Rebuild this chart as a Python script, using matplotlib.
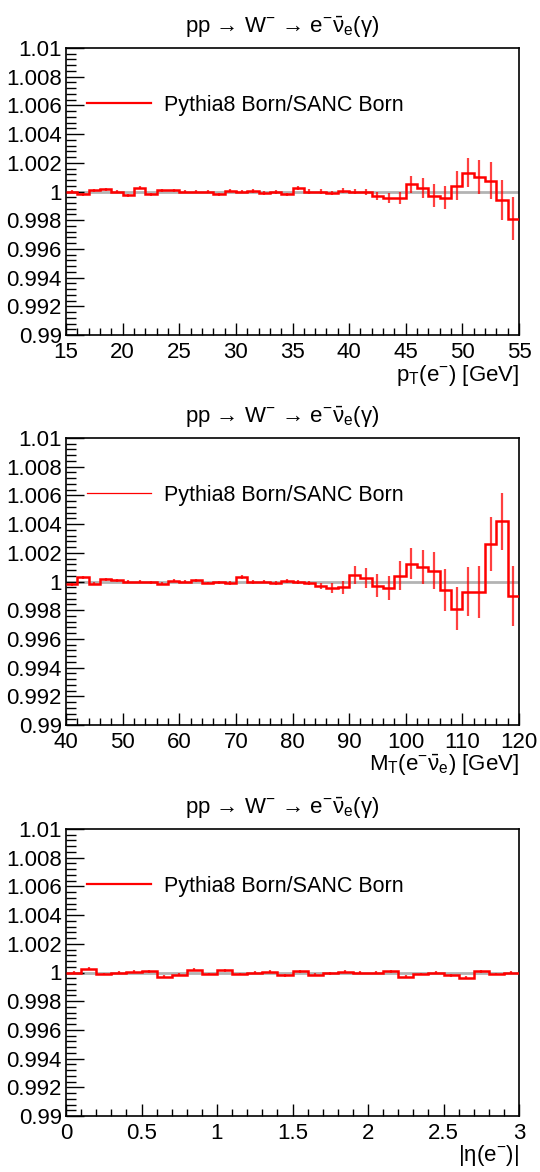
import numpy as np
import matplotlib
matplotlib.use("Agg")
import matplotlib.pyplot as plt
from matplotlib.ticker import MultipleLocator, FuncFormatter

plt.rcParams['font.family'] = ['Liberation Sans', 'DejaVu Sans']
plt.rcParams['mathtext.fontset'] = 'custom'
plt.rcParams['mathtext.rm'] = 'Liberation Sans'
plt.rcParams['mathtext.it'] = 'Liberation Sans:italic'
plt.rcParams['mathtext.default'] = 'regular'
plt.rcParams['mathtext.fallback'] = 'stixsans'

# pT(e-) ratio, 1 GeV bins from 15 to 55
pt_edges = np.arange(15, 56, 1)
pt_ratio = [1.0000, 0.9998, 1.0001, 1.00015, 1.0000, 0.99975, 1.00025, 0.9998, 1.0001, 1.0001,
            1.0000, 1.0000, 1.0000, 0.9998, 1.00005, 1.0000, 1.00005, 0.9999, 0.99995, 0.9998,
            1.00025, 1.0000, 1.0000, 0.9999, 1.00005, 1.0000, 0.99995, 0.9997, 0.99955, 0.99955,
            1.0005, 1.00025, 0.9997, 0.99955, 1.0004, 1.0013, 1.001, 1.00075, 0.9994, 0.9981]
pt_err = [0.0001, 0.0001, 0.0001, 0.0001, 0.0001, 0.0001, 0.0001, 0.0001, 0.0001, 0.0001,
          0.0001, 0.0001, 0.0001, 0.0001, 0.0001, 0.00012, 0.00012, 0.00012, 0.00012, 0.00013,
          0.00013, 0.00014, 0.00015, 0.00016, 0.00017, 0.00018, 0.00022, 0.0003, 0.00035, 0.0004,
          0.0006, 0.0007, 0.0008, 0.0008, 0.001, 0.001, 0.0012, 0.0013, 0.0014, 0.0015]

# MT(e nu) ratio, 2 GeV bins from 40 to 120
mt_edges = np.arange(40, 122, 2)
mt_ratio = [0.9998, 1.0003, 0.99985, 1.00015, 1.0001, 1.0000, 1.0000, 0.99995, 0.99985, 1.00005,
            1.0000, 1.0001, 0.9999, 0.99995, 0.9999, 1.0003, 0.99995, 1.0000, 0.9999, 1.00005,
            0.99995, 0.9999, 0.9997, 0.99955, 0.9996, 1.00045, 1.00025, 0.9997, 0.99955, 1.0004,
            1.00125, 1.001, 1.00075, 0.9994, 0.9981, 0.99928, 0.99928, 1.0026, 1.0042, 0.999]
mt_err = [0.0001, 0.0001, 0.0001, 0.0001, 0.0001, 0.0001, 0.0001, 0.0001, 0.0001, 0.0001,
          0.0001, 0.0001, 0.0001, 0.0001, 0.00012, 0.00012, 0.00012, 0.00013, 0.00013, 0.00014,
          0.00015, 0.00016, 0.0002, 0.00035, 0.00045, 0.0006, 0.0007, 0.0008, 0.00085, 0.001,
          0.00107, 0.0012, 0.0013, 0.00145, 0.0015, 0.0017, 0.0018, 0.0019, 0.002, 0.0021]

# |eta(e-)| ratio, 0.1 bins from 0 to 3
eta_edges = np.linspace(0, 3, 31)
eta_ratio = [1.0000, 1.00025, 0.9999, 1.0000, 1.00005, 1.0001, 0.9997, 0.99985, 1.0002, 0.9999,
             1.00015, 0.9999, 1.0000, 1.00005, 0.9998, 1.0001, 0.99985, 0.99995, 1.00005, 1.0000,
             1.0000, 1.0001, 0.9997, 0.9999, 1.0000, 0.9998, 0.99965, 1.0001, 0.9999, 1.0000]
eta_err = [0.0001] * 30

panels = [
    (pt_edges, pt_ratio, pt_err, r'p$_{T}$(e$^{-}$) [GeV]', 5, 1, 1.6),
    (mt_edges, mt_ratio, mt_err, r'M$_{T}$(e$^{-}\bar{\nu}_{e}$) [GeV]', 10, 2, 0.9),
    (eta_edges, eta_ratio, eta_err, r'|$\eta$(e$^{-}$)|', 0.5, 0.1, 1.6),
]
title = r'pp → W$^{-}$ → e$^{-}\bar{\nu}_{e}$(γ)'

W, H = 540, 1172
fig = plt.figure(figsize=(W / 100, H / 100), dpi=100)
tops = [48, 438, 829]

for (edges, ratio, err, xlab, maj, mnr, leg_lw), top in zip(panels, tops):
    ax = fig.add_axes([66 / W, 1 - (top + 287) / H, 453 / W, 287 / H])
    edges = np.asarray(edges, dtype=float)
    ratio = np.asarray(ratio)
    centers = 0.5 * (edges[:-1] + edges[1:])
    ax.axhline(1.0, color='#b3b3b3', lw=2, zorder=1)
    ax.stairs(ratio, edges, baseline=None, color='red', lw=1.8, zorder=3)
    ax.errorbar(centers, ratio, yerr=err, fmt='none', ecolor='red', elinewidth=1.6,
                alpha=0.75, capsize=0, zorder=2)
    ax.plot([], [], color='red', lw=leg_lw, label='Pythia8 Born/SANC Born')
    ax.legend(loc='center left', bbox_to_anchor=(0.046, 0.801), frameon=False,
              borderpad=0, borderaxespad=0, handlelength=3.0, handletextpad=0.6,
              fontsize=15.5)

    ax.set_xlim(edges[0], edges[-1])
    ax.set_ylim(0.99, 1.01)
    ax.xaxis.set_major_locator(MultipleLocator(maj))
    ax.xaxis.set_minor_locator(MultipleLocator(mnr))
    ax.yaxis.set_major_locator(MultipleLocator(0.002))
    ax.yaxis.set_minor_locator(MultipleLocator(0.0004))
    ax.yaxis.set_major_formatter(FuncFormatter(lambda v, p: '%g' % round(v, 4)))
    ax.xaxis.set_major_formatter(FuncFormatter(lambda v, p: '%g' % round(v, 4)))
    ax.tick_params(axis='both', which='both', direction='in', labelsize=16, width=1)
    ax.tick_params(axis='y', which='major', length=13, pad=3)
    ax.tick_params(axis='y', which='minor', length=7)
    ax.tick_params(axis='x', which='major', length=9, pad=5)
    ax.tick_params(axis='x', which='minor', length=5)
    for s in ax.spines.values():
        s.set_linewidth(1.2)

    fig.text(282 / W, 1 - (top - 21) / H, title, ha='center', va='center', fontsize=16)
    fig.text(519 / W, 1 - (top + 327) / H, xlab, ha='right', va='center', fontsize=16)

fig.savefig('out.png', dpi=100)
